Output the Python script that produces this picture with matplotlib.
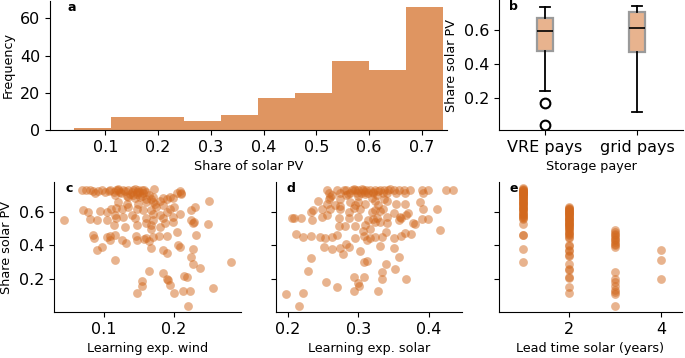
import numpy as np
import matplotlib
matplotlib.use("Agg")
import matplotlib.pyplot as plt

# ---------------- data ----------------
# (a) histogram of share of solar PV
hist_edges = [0.041, 0.111, 0.181, 0.250, 0.320, 0.390, 0.460, 0.530, 0.600, 0.670, 0.740]
hist_counts = [1, 7, 7, 5, 8, 17, 20, 37, 32, 66]

# (b) box statistics by storage payer
payer_labels = ["VRE pays", "grid pays"]
box_med = [0.590, 0.610]
box_q1 = [0.472, 0.466]
box_q3 = [0.669, 0.708]
box_whislo = [0.241, 0.113]
box_whishi = [0.734, 0.740]
box_fliers = [[0.167, 0.038], []]

# (c) learning exponent wind vs share solar PV
wind_x = [0.069, 0.080, 0.085, 0.097, 0.109, 0.121, 0.128, 0.135, 0.142, 0.149, 0.154, 0.161, 0.172,
          0.088, 0.114, 0.123, 0.140, 0.147, 0.156, 0.209, 0.211, 0.102,
          0.075, 0.092, 0.117, 0.131, 0.145, 0.150, 0.158, 0.125, 0.138, 0.165, 0.170, 0.205, 0.210,
          0.185, 0.195, 0.135, 0.155, 0.120, 0.107, 0.145, 0.170,
          0.142, 0.152, 0.161, 0.168, 0.133, 0.147, 0.116,
          0.190, 0.199, 0.180, 0.173, 0.161, 0.149, 0.133, 0.121, 0.251, 0.201, 0.230,
          0.070, 0.077, 0.095, 0.104, 0.111, 0.118, 0.126, 0.135, 0.147, 0.156, 0.168, 0.175, 0.185,
          0.194, 0.209, 0.225,
          0.116, 0.128, 0.140, 0.171, 0.180, 0.190, 0.081, 0.090, 0.104, 0.118, 0.145, 0.161, 0.171,
          0.185, 0.199, 0.225, 0.229,
          0.114, 0.130, 0.147, 0.161, 0.168, 0.180, 0.187, 0.199, 0.227, 0.249, 0.168,
          0.085, 0.086, 0.104, 0.109, 0.116, 0.146, 0.161, 0.171, 0.179, 0.190, 0.204, 0.232,
          0.109, 0.126, 0.132, 0.147, 0.157, 0.164, 0.206, 0.209, 0.227, 0.225,
          0.090, 0.098, 0.168, 0.185, 0.190, 0.116,
          0.228, 0.237, 0.282, 0.164, 0.185,
          0.190, 0.192, 0.214, 0.219, 0.155, 0.155, 0.194, 0.256, 0.147, 0.201, 0.213, 0.223,
          0.220, 0.043]
wind_y = [0.728, 0.728, 0.722, 0.728, 0.728, 0.728, 0.728, 0.728, 0.728, 0.728, 0.728, 0.718, 0.734,
          0.714, 0.718, 0.718, 0.718, 0.718, 0.714, 0.722, 0.708, 0.718,
          0.730, 0.725, 0.730, 0.725, 0.735, 0.720, 0.730, 0.710, 0.705, 0.700, 0.690, 0.710, 0.715,
          0.680, 0.690, 0.688, 0.695, 0.735, 0.722, 0.680, 0.660,
          0.699, 0.689, 0.679, 0.675, 0.695, 0.708, 0.702,
          0.679, 0.683, 0.663, 0.649, 0.659, 0.649, 0.649, 0.659, 0.663, 0.630, 0.630,
          0.610, 0.600, 0.604, 0.600, 0.620, 0.624, 0.620, 0.630, 0.620, 0.610, 0.610, 0.630, 0.643,
          0.620, 0.590, 0.610,
          0.580, 0.570, 0.580, 0.590, 0.580, 0.600, 0.557, 0.551, 0.551, 0.561, 0.561, 0.565, 0.551,
          0.561, 0.570, 0.551, 0.541,
          0.521, 0.511, 0.521, 0.531, 0.521, 0.511, 0.531, 0.541, 0.531, 0.525, 0.501,
          0.462, 0.446, 0.452, 0.458, 0.462, 0.458, 0.442, 0.452, 0.458, 0.458, 0.482, 0.462,
          0.433, 0.433, 0.413, 0.433, 0.436, 0.427, 0.403, 0.393, 0.379, 0.334,
          0.373, 0.393, 0.383, 0.373, 0.354, 0.314,
          0.289, 0.265, 0.304, 0.249, 0.239,
          0.202, 0.196, 0.216, 0.210, 0.186, 0.161, 0.167, 0.147, 0.115, 0.117, 0.127, 0.127,
          0.038, 0.551]

# (d) learning exponent solar vs share solar PV
solar_x = [0.256, 0.269, 0.279, 0.283, 0.291, 0.295, 0.300, 0.306, 0.311, 0.317, 0.324, 0.331, 0.336,
           0.342, 0.350, 0.357, 0.364, 0.373, 0.390, 0.399, 0.425, 0.434,
           0.258, 0.274, 0.288, 0.298, 0.303, 0.314, 0.321, 0.340, 0.353, 0.366, 0.391,
           0.293, 0.305, 0.320, 0.328, 0.345, 0.262, 0.285, 0.310, 0.335,
           0.260, 0.274, 0.283, 0.299, 0.309, 0.319, 0.326, 0.336, 0.258,
           0.243, 0.255, 0.267, 0.274, 0.288, 0.295, 0.300, 0.309, 0.324, 0.328, 0.340, 0.354, 0.366,
           0.387,
           0.232, 0.236, 0.248, 0.260, 0.274, 0.286, 0.293, 0.302, 0.319, 0.324, 0.331, 0.335, 0.350,
           0.368, 0.371, 0.391, 0.411,
           0.206, 0.209, 0.219, 0.234, 0.248, 0.255, 0.272, 0.286, 0.300, 0.314, 0.321, 0.326, 0.331,
           0.340, 0.359, 0.361, 0.378, 0.390, 0.399,
           0.272, 0.281, 0.295, 0.309, 0.324, 0.317, 0.340, 0.358, 0.380, 0.416,
           0.212, 0.222, 0.233, 0.245, 0.253, 0.262, 0.270, 0.295, 0.307, 0.308, 0.312, 0.317, 0.324,
           0.333, 0.339, 0.350, 0.361, 0.366, 0.374,
           0.251, 0.262, 0.274, 0.278, 0.283, 0.286, 0.302, 0.331, 0.351, 0.233, 0.308, 0.312, 0.358,
           0.229, 0.339, 0.352, 0.333, 0.294, 0.308, 0.299, 0.333, 0.367, 0.254, 0.270, 0.301, 0.294,
           0.328, 0.197, 0.221, 0.215]
solar_y = [0.728, 0.728, 0.728, 0.728, 0.728, 0.728, 0.728, 0.728, 0.728, 0.728, 0.728, 0.728, 0.728,
           0.728, 0.728, 0.728, 0.728, 0.728, 0.728, 0.728, 0.728, 0.728,
           0.714, 0.714, 0.714, 0.714, 0.714, 0.714, 0.714, 0.714, 0.714, 0.714, 0.714,
           0.735, 0.735, 0.720, 0.722, 0.735, 0.700, 0.705, 0.718, 0.710,
           0.689, 0.679, 0.699, 0.695, 0.708, 0.683, 0.699, 0.679, 0.679,
           0.663, 0.649, 0.643, 0.635, 0.659, 0.639, 0.659, 0.649, 0.663, 0.643, 0.663, 0.649, 0.649,
           0.659,
           0.600, 0.610, 0.620, 0.620, 0.620, 0.600, 0.624, 0.620, 0.600, 0.610, 0.604, 0.620, 0.596,
           0.584, 0.596, 0.620, 0.620,
           0.561, 0.561, 0.561, 0.551, 0.570, 0.580, 0.561, 0.561, 0.570, 0.551, 0.555, 0.561, 0.541,
           0.570, 0.570, 0.561, 0.531, 0.555, 0.555,
           0.517, 0.517, 0.517, 0.521, 0.541, 0.501, 0.531, 0.551, 0.525, 0.492,
           0.466, 0.452, 0.458, 0.452, 0.446, 0.452, 0.462, 0.446, 0.486, 0.458, 0.433, 0.442, 0.452,
           0.452, 0.478, 0.442, 0.458, 0.472, 0.468,
           0.393, 0.379, 0.383, 0.350, 0.407, 0.393, 0.367, 0.399, 0.387, 0.328, 0.300, 0.310, 0.334,
           0.249, 0.289, 0.261, 0.245, 0.210, 0.214, 0.176, 0.200, 0.200, 0.182, 0.155, 0.157, 0.127,
           0.127, 0.111, 0.117, 0.038]

# (e) lead time solar vs share solar PV
lead_x = [1] * 44 + [2] * 48 + [3] * 19 + [4] * 3
lead_y = [0.740, 0.735, 0.730, 0.730, 0.725, 0.720, 0.720, 0.715, 0.710, 0.710, 0.705, 0.700, 0.700,
          0.695, 0.690, 0.685, 0.680, 0.675, 0.670, 0.665, 0.660, 0.655, 0.650, 0.645, 0.640, 0.635,
          0.630, 0.625, 0.620, 0.615, 0.610, 0.600, 0.595, 0.590, 0.580, 0.575, 0.570, 0.565, 0.555,
          0.525, 0.465, 0.460, 0.380, 0.304,
          0.630, 0.625, 0.620, 0.615, 0.610, 0.605, 0.600, 0.600, 0.595, 0.590, 0.585, 0.580, 0.575,
          0.570, 0.565, 0.560, 0.555, 0.550, 0.545, 0.540, 0.535, 0.530, 0.525, 0.520, 0.515, 0.510,
          0.505, 0.500, 0.475, 0.470, 0.460, 0.450, 0.445, 0.400, 0.395, 0.375, 0.370, 0.345, 0.335,
          0.290, 0.260, 0.255, 0.215, 0.205, 0.150, 0.117, 0.480, 0.490,
          0.495, 0.480, 0.470, 0.460, 0.450, 0.440, 0.430, 0.420, 0.410, 0.400, 0.393, 0.241, 0.200,
          0.182, 0.157, 0.137, 0.123, 0.110, 0.038,
          0.373, 0.314, 0.200]

# ---------------- style ----------------
plt.rcParams['font.family'] = ['DejaVu Sans']
col = 'chocolate'
TICK = 11.5
LAB = 9.2

fig = plt.figure(figsize=(6.85, 3.58), dpi=100)
W, H = 685.0, 358.0


def pax(l, r, t, b, **kw):
    return fig.add_axes([l / W, 1 - b / H, (r - l) / W, (b - t) / H], **kw)


def style(ax):
    ax.spines['top'].set_visible(False)
    ax.spines['right'].set_visible(False)
    ax.tick_params(labelsize=TICK)


def letter(ax, s, x=0.055):
    ax.text(x, 0.92, s, transform=ax.transAxes, fontsize=9, fontweight='bold',
            va='baseline', ha='left')


# (a)
ax_a = pax(50, 447, 1, 130)
ax_a.bar(hist_edges[:-1], hist_counts, width=np.diff(hist_edges), align='edge',
         color=col, alpha=0.7, linewidth=0)
ax_a.set_xlim(-0.005, 0.748)
ax_a.set_ylim(0, 69.3)
ax_a.set_xticks([0.1, 0.2, 0.3, 0.4, 0.5, 0.6, 0.7])
ax_a.set_yticks([0, 20, 40, 60])
ax_a.set_xlabel('Share of solar PV', fontsize=LAB)
ax_a.set_ylabel('Frequency', fontsize=LAB)
style(ax_a)
letter(ax_a, 'a', 0.043)

# (b)
ax_b = pax(499, 683, 0, 130)
stats = []
for i in range(2):
    stats.append(dict(med=box_med[i], q1=box_q1[i], q3=box_q3[i],
                      whislo=box_whislo[i], whishi=box_whishi[i],
                      fliers=box_fliers[i], label=payer_labels[i]))
ax_b.bxp(stats, positions=[1, 2], widths=0.17, patch_artist=True, capwidths=0.1,
         boxprops=dict(facecolor=(210/255, 105/255, 30/255, 0.5), edgecolor='#9a9a9a', linewidth=1.6),
         medianprops=dict(color='black', linewidth=1.2),
         whiskerprops=dict(color='black', linewidth=1.3),
         capprops=dict(color='black', linewidth=1.3),
         flierprops=dict(marker='o', markerfacecolor='white', markeredgecolor='black',
                         markersize=7, markeredgewidth=1.5))
ax_b.set_xlim(0.5, 2.5)
ax_b.set_ylim(0.008, 0.776)
ax_b.set_yticks([0.2, 0.4, 0.6])
ax_b.set_xlabel('Storage payer', fontsize=LAB)
ax_b.set_ylabel('Share solar PV', fontsize=LAB)
style(ax_b)
letter(ax_b, 'b')

# (c)(d)(e)
ax_c = pax(54, 241, 182, 312)
ax_d = pax(276, 462, 182, 312, sharey=ax_c)
ax_e = pax(499, 682, 182, 312, sharey=ax_c)

sc_kw = dict(color=col, alpha=0.5, s=40, linewidths=0)
ax_c.scatter(wind_x, wind_y, **sc_kw)
ax_d.scatter(solar_x, solar_y, **sc_kw)
ax_e.scatter(lead_x, lead_y, **sc_kw)

ax_c.set_ylim(0.004, 0.778)
ax_c.set_yticks([0.2, 0.4, 0.6])
ax_c.set_xlim(0.029, 0.296)
ax_c.set_xticks([0.1, 0.2])
ax_d.set_xlim(0.183, 0.447)
ax_d.set_xticks([0.2, 0.3, 0.4])
ax_e.set_xlim(0.48, 4.46)
ax_e.set_xticks([2, 4])
ax_c.set_ylabel('Share solar PV', fontsize=LAB)
ax_c.set_xlabel('Learning exp. wind', fontsize=LAB)
ax_d.set_xlabel('Learning exp. solar', fontsize=LAB)
ax_e.set_xlabel('Lead time solar (years)', fontsize=LAB)
for ax in (ax_c, ax_d, ax_e):
    style(ax)
for ax in (ax_d, ax_e):
    ax.tick_params(labelleft=False)
letter(ax_c, 'c', 0.059)
letter(ax_d, 'd', 0.059)
letter(ax_e, 'e', 0.055)

fig.savefig('out.png', dpi=100)
